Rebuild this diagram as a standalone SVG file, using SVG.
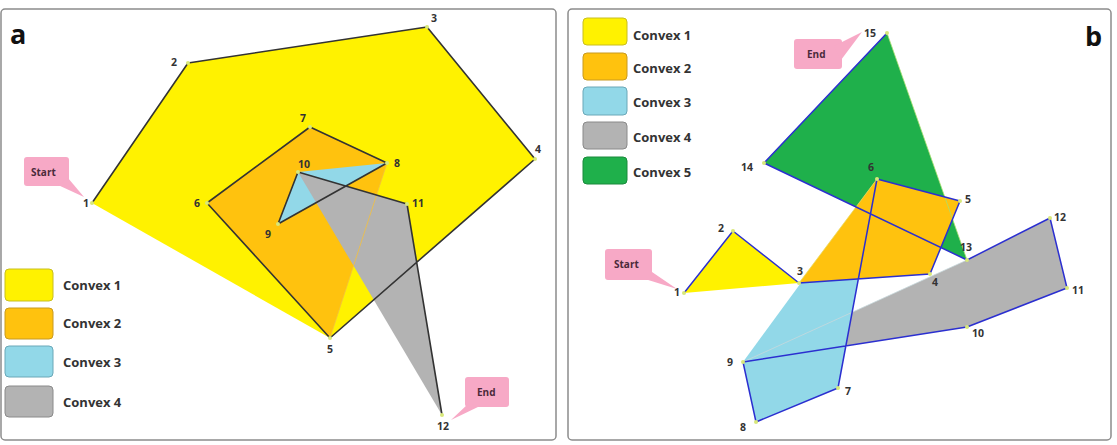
<svg xmlns="http://www.w3.org/2000/svg" width="1117" height="445" viewBox="0 0 1117 445">
<style>
.panel{fill:#fff;stroke:#8c8c8c;stroke-width:1.5}
.c1{fill:#FFF200}.c2{fill:#FFC20E}.c3{fill:#92D8E8}.c4{fill:#B3B3B3}.c5{fill:#1FB04B}
.la{fill:none;stroke:#333;stroke-width:1.6;stroke-linejoin:round}
.lb{fill:none;stroke:#2B2FD0;stroke-width:1.5;stroke-linejoin:round}
.dot{fill:#D8E87A}
.num{font-family:"Open Sans","Liberation Sans",sans-serif;font-weight:bold;font-size:10.5px;fill:#333}
.leg{font-family:"Open Sans","Liberation Sans",sans-serif;font-weight:bold;font-size:13px;fill:#333}
.big{font-family:"Open Sans","Liberation Sans",sans-serif;font-weight:bold;font-size:27px;fill:#111}
.call{fill:#F7A9C6}
.ct{font-family:"Open Sans","Liberation Sans",sans-serif;font-weight:bold;font-size:10px;fill:#4a2a3a}
.sw1{fill:#FFF200;stroke:#C8BE20}.sw2{fill:#FFC20E;stroke:#C89A20}.sw3{fill:#92D8E8;stroke:#6AA8B8}.sw4{fill:#B3B3B3;stroke:#8A8A8A}.sw5{fill:#1FB04B;stroke:#1A8A3C}
</style>
<rect class="panel" x="1" y="9" width="555" height="431" rx="4"/>
<rect class="panel" x="568" y="9" width="543" height="431" rx="4"/>
<text class="big" x="10" y="44">a</text>
<text class="big" x="1085" y="46">b</text>

<g id="panel-a-shapes">
<polygon id="a-convex1" class="c1" points="92,203 188,63 427,27 535,159 330,338"/>
<polygon id="a-convex2" class="c2" points="330,338 207,203 310,127 387,163"/>
<polygon id="a-convex3" class="c3" points="387,163 278,224 298,172"/>
<polygon id="a-convex4" class="c4" points="298,172 407,204 442,415"/>
<line x1="387" y1="163" x2="330" y2="338" stroke="#F2C040" stroke-width="0.8"/>
</g>
<g id="connectors-a">
<polyline class="la" points="92,203 188,63 427,27 535,159 330,338 207,203 310,127 387,163 278,224 298,172 407,204 442,415"/>
</g>
<g id="a-dots" class="dot">
<circle cx="92" cy="203" r="2"/><circle cx="188" cy="63" r="2"/><circle cx="427" cy="27" r="2"/><circle cx="535" cy="159" r="2"/><circle cx="330" cy="338" r="2"/><circle cx="207" cy="203" r="2"/><circle cx="310" cy="127" r="2"/><circle cx="387" cy="163" r="2"/><circle cx="278" cy="224" r="2"/><circle cx="298" cy="172" r="2"/><circle cx="407" cy="204" r="2"/><circle cx="442" cy="415" r="2"/>
</g>
<g id="a-labels" class="num">
<text x="83" y="207">1</text>
<text x="171" y="66">2</text>
<text x="431" y="22">3</text>
<text x="535" y="153">4</text>
<text x="327" y="353">5</text>
<text x="194" y="207">6</text>
<text x="300" y="122">7</text>
<text x="394" y="167">8</text>
<text x="265" y="238">9</text>
<text x="298" y="168">10</text>
<text x="412" y="207">11</text>
<text x="437" y="430">12</text>
</g>
<g id="a-start">
<rect class="call" x="24" y="157" width="45" height="29" rx="3"/>
<polygon class="call" points="58,185 68,178 84,197"/>
<text class="ct" x="31" y="176">Start</text>
</g>
<g id="a-end">
<rect class="call" x="465" y="377" width="44" height="30" rx="3"/>
<polygon class="call" points="468,404 480,406 451,420"/>
<text class="ct" x="477" y="396">End</text>
</g>
<g id="a-legend">
<rect class="sw1" x="5" y="269" width="48" height="32" rx="4"/>
<rect class="sw2" x="5" y="308" width="48" height="31" rx="4"/>
<rect class="sw3" x="5" y="346" width="48" height="31" rx="4"/>
<rect class="sw4" x="5" y="386" width="48" height="31" rx="4"/>
<text class="leg" x="63" y="290">Convex 1</text>
<text class="leg" x="63" y="328">Convex 2</text>
<text class="leg" x="63" y="367">Convex 3</text>
<text class="leg" x="63" y="407">Convex 4</text>
</g>

<g id="panel-b-shapes">
<polygon id="b-convex4" class="c4" points="743,362 967,327 1067,288 1050,218 967,260"/>
<polygon id="b-convex5" class="c5" points="967,260 764,163 887,33"/>
<polygon id="b-convex3" class="c3" points="877,179 838,388 756,422 743,362"/>
<line x1="743" y1="362" x2="967" y2="260" stroke="#C8D8DC" stroke-width="0.8"/>
<polygon id="b-convex2" class="c2" points="799,283 930,274 960,201 877,179"/>
<polygon id="b-convex1" class="c1" points="684,293 733,231 799,283"/>
<line x1="799" y1="283" x2="877" y2="179" stroke="#E8D860" stroke-width="0.8"/>
<line x1="887" y1="33" x2="967" y2="260" stroke="#A8E070" stroke-width="0.8"/>
</g>
<g id="connectors-b">
<polyline class="lb" points="684,293 733,231 799,283 930,274 960,201 877,179 838,388 756,422 743,362 967,327 1067,288 1050,218 967,260 764,163 887,33"/>
</g>
<g id="b-dots" class="dot">
<circle cx="684" cy="293" r="2"/><circle cx="733" cy="231" r="2"/><circle cx="799" cy="283" r="2"/><circle cx="930" cy="274" r="2"/><circle cx="960" cy="201" r="2"/><circle cx="877" cy="179" r="2"/><circle cx="838" cy="388" r="2"/><circle cx="756" cy="422" r="2"/><circle cx="743" cy="362" r="2"/><circle cx="967" cy="327" r="2"/><circle cx="1067" cy="288" r="2"/><circle cx="1050" cy="218" r="2"/><circle cx="967" cy="260" r="2"/><circle cx="764" cy="163" r="2"/><circle cx="887" cy="33" r="2"/>
</g>
<g id="b-labels" class="num">
<text x="674" y="296">1</text>
<text x="718" y="232">2</text>
<text x="797" y="275">3</text>
<text x="932" y="286">4</text>
<text x="965" y="203">5</text>
<text x="868" y="171">6</text>
<text x="845" y="395">7</text>
<text x="740" y="431">8</text>
<text x="727" y="366">9</text>
<text x="972" y="337">10</text>
<text x="1072" y="294">11</text>
<text x="1054" y="221">12</text>
<text x="960" y="251">13</text>
<text x="741" y="171">14</text>
<text x="864" y="37">15</text>
</g>
<g id="b-start">
<rect class="call" x="605" y="249" width="47" height="31" rx="3"/>
<polygon class="call" points="645,279 652,272 677,289"/>
<text class="ct" x="614" y="268">Start</text>
</g>
<g id="b-end">
<rect class="call" x="794" y="39" width="48" height="30" rx="3"/>
<polygon class="call" points="834,46 841,60 862,32"/>
<text class="ct" x="807" y="58">End</text>
</g>
<g id="b-legend">
<rect class="sw1" x="583" y="18" width="44" height="27" rx="4"/>
<rect class="sw2" x="583" y="53" width="44" height="27" rx="4"/>
<rect class="sw3" x="583" y="87" width="44" height="28" rx="4"/>
<rect class="sw4" x="583" y="122" width="44" height="27" rx="4"/>
<rect class="sw5" x="583" y="157" width="44" height="27" rx="4"/>
<text class="leg" x="633" y="40">Convex 1</text>
<text class="leg" x="633" y="73">Convex 2</text>
<text class="leg" x="633" y="107">Convex 3</text>
<text class="leg" x="633" y="142">Convex 4</text>
<text class="leg" x="633" y="177">Convex 5</text>
</g>
</svg>
